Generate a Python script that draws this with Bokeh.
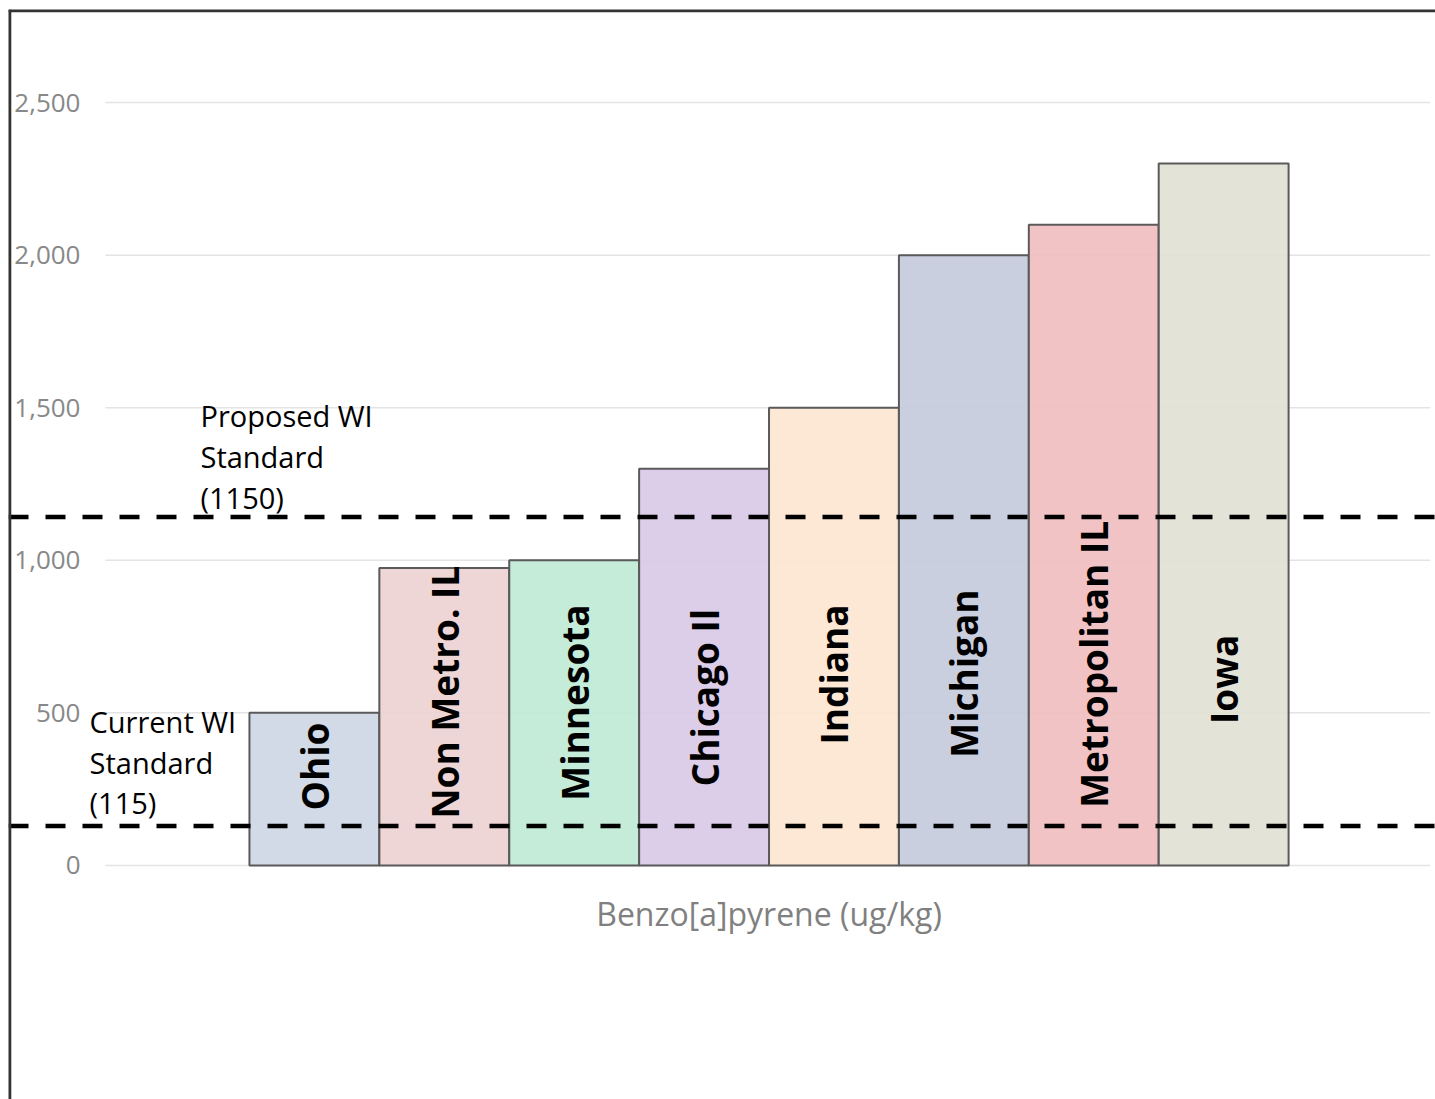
from bokeh.plotting import figure
from bokeh.models import Range1d, Span, FixedTicker, NumeralTickFormatter, ColumnDataSource
from bokeh.core.properties import value
from bokeh.embed import file_html
from bokeh.resources import INLINE

# ---- data ----
regions = ["Ohio", "Non Metro. IL", "Minnesota", "Chicago Il", "Indiana",
           "Michigan", "Metropolitan IL", "Iowa"]
bap_values = [500, 975, 1000, 1300, 1500, 2000, 2100, 2300]
bar_colors = ["#cdd6e4", "#ecd0d2", "#bfead5", "#d8c8e6", "#fde4d0",
              "#c3cadb", "#efbcbf", "#e1e0d4"]
label_y = [324, 568, 534, 550, 626, 629, 659, 610]
y_ticks = [0, 500, 1000, 1500, 2000, 2500]
current_std = 129
proposed_std = 1142
x_title = "Benzo[a]pyrene (ug/kg)"

FONT = "Open Sans"

x_pos = list(range(1, len(regions) + 1))
src = ColumnDataSource(dict(x=x_pos, top=bap_values, color=bar_colors,
                            name=regions, ly=label_y))

p = figure(width=1435, height=1099, output_backend="svg", toolbar_location=None,
           x_range=Range1d(-1.355, 9.631), y_range=Range1d(-767, 2805),
           min_border_left=8, min_border_top=9, min_border_right=0,
           min_border_bottom=0)
p.outline_line_color = None
p.background_fill_color = "white"
p.border_fill_color = "white"
p.xgrid.grid_line_color = None
p.ygrid.grid_line_color = None
p.xaxis.visible = False

# y axis drawn inside the frame
yax = p.yaxis[0]
yax.ticker = FixedTicker(ticks=y_ticks)
yax.formatter = NumeralTickFormatter(format="0,0")
yax.axis_line_color = None
yax.major_tick_line_color = None
yax.minor_tick_line_color = None
yax.major_tick_out = 0
yax.major_label_standoff = -72
yax.major_label_text_color = "#888888"
yax.major_label_text_font = FONT
yax.major_label_text_font_size = "26px"

# gridlines
p.segment(x0=[-0.61] * len(y_ticks), x1=[9.59] * len(y_ticks), y0=y_ticks, y1=y_ticks,
          line_color="#e4e4e4", line_width=1.5)

# bars
p.vbar(x="x", top="top", bottom=0, width=1.0, source=src, fill_color="color",
       fill_alpha=0.9, line_color="#5a5a5a", line_width=2)

# bar labels
p.text(x="x", y="ly", text="name", source=src, angle=1.5708,
       text_align="center", text_baseline="middle", text_color="black",
       text_font=value(FONT), text_font_style="bold", text_font_size="37px")

# standards
for v in (current_std, proposed_std):
    p.add_layout(Span(location=v, dimension="width", line_color="black",
                      line_width=4.5, line_dash="20 17"))

p.text(x=[0.123], y=[1537], text=["Proposed WI\nStandard\n(1150)"],
       text_align="left", text_baseline="top", text_color="black",
       text_font=value(FONT), text_font_size="29px", text_line_height=1.05)
p.text(x=[-0.731], y=[537], text=["Current WI\nStandard\n(115)"],
       text_align="left", text_baseline="top", text_color="black",
       text_font=value(FONT), text_font_size="29px", text_line_height=1.05)

# x title
p.text(x=[4.5], y=[-157], text=[x_title], text_align="center",
       text_baseline="middle", text_color="#808080", text_font=value(FONT),
       text_font_size="32px")

# frame borders (left and top)
p.add_layout(Span(location=-1.347, dimension="height", line_color="#333333", line_width=3.5))
p.add_layout(Span(location=2801.5, dimension="width", line_color="#333333", line_width=3.5))

open("out.html", "w").write(file_html(p, INLINE))
